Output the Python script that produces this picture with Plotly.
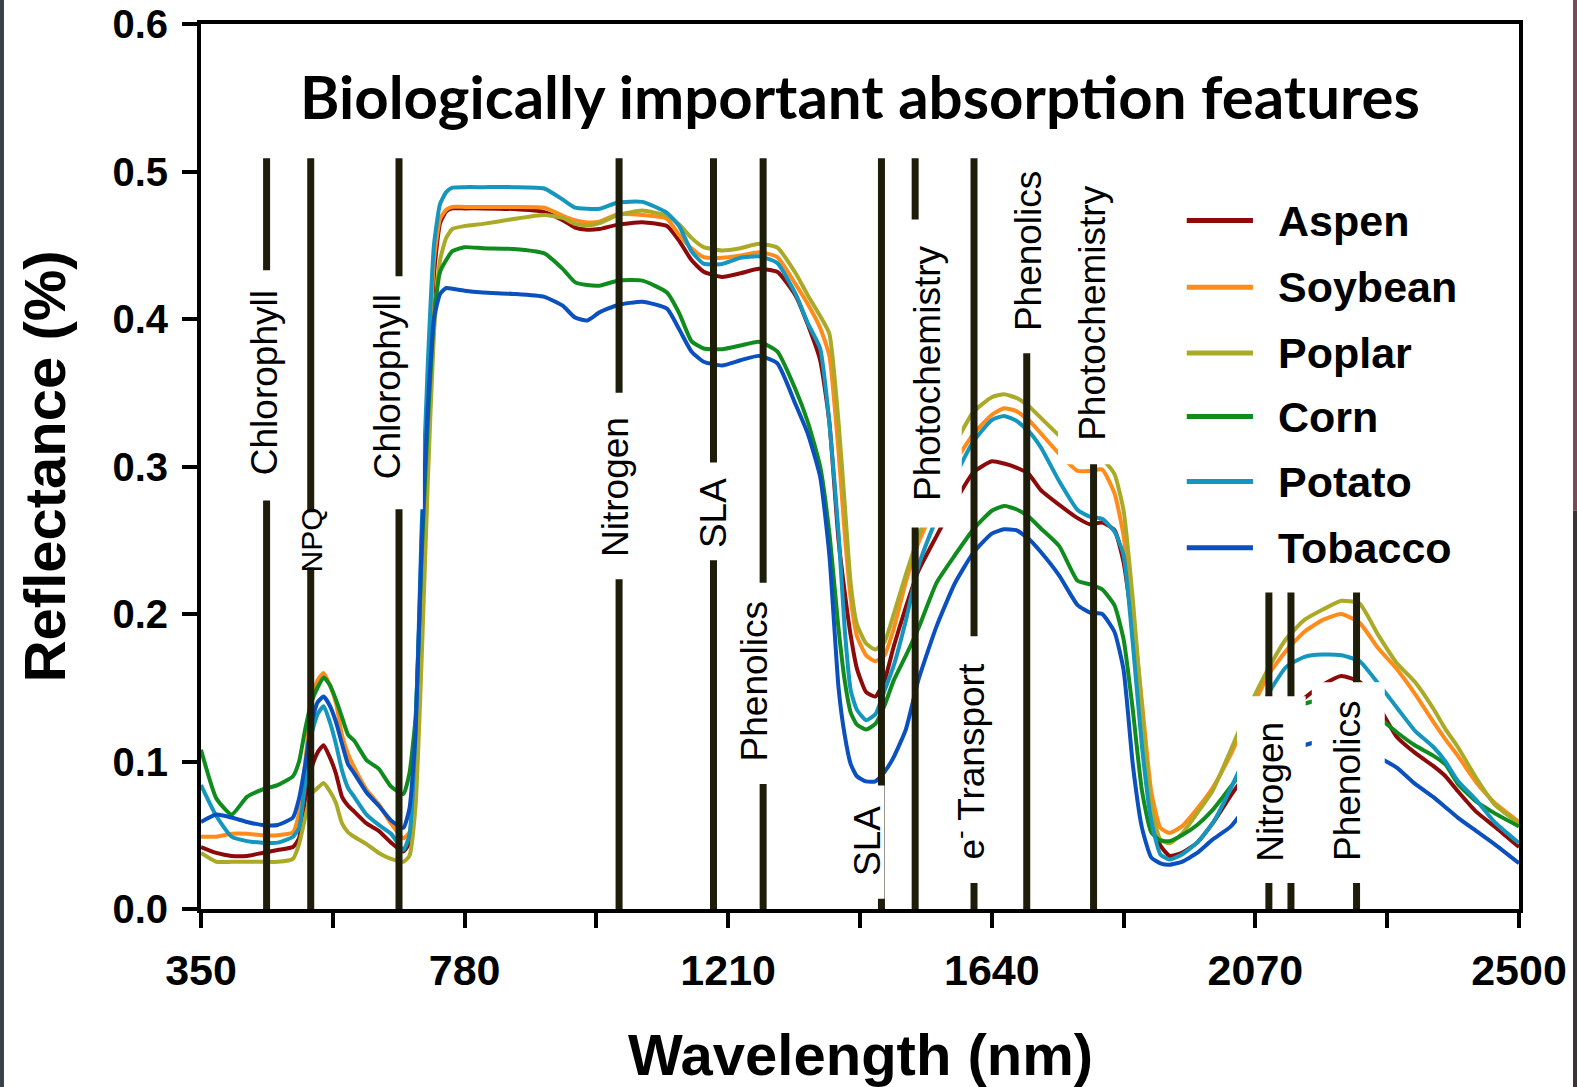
import plotly.graph_objects as go

# ---------------- data ----------------
wavelength = [350, 375, 400, 425, 450, 475, 500, 510, 520, 530, 540, 550, 560, 570, 580, 590,
              600, 620, 640, 660, 680, 690, 700, 710, 720, 730, 740, 750, 760, 780, 810, 860,
              910, 940, 960, 980, 1000, 1030, 1070, 1110, 1130, 1150, 1170, 1200, 1230, 1260,
              1290, 1320, 1340, 1360, 1375, 1390, 1400, 1410, 1420, 1435, 1450, 1465, 1480,
              1500, 1520, 1550, 1580, 1610, 1640, 1660, 1680, 1700, 1720, 1750, 1780, 1800,
              1820, 1840, 1855, 1870, 1885, 1900, 1915, 1930, 1950, 1975, 2000, 2030, 2060,
              2090, 2120, 2150, 2180, 2210, 2240, 2270, 2300, 2330, 2360, 2380, 2400, 2430,
              2460, 2500]

aspen = [0.042, 0.038, 0.036, 0.036, 0.038, 0.040, 0.042, 0.048, 0.075, 0.095, 0.106, 0.111,
         0.103, 0.092, 0.076, 0.070, 0.066, 0.058, 0.053, 0.045, 0.039, 0.045, 0.100, 0.230,
         0.340, 0.430, 0.465, 0.473, 0.475, 0.475, 0.475, 0.4745, 0.4725, 0.467, 0.462, 0.4605,
         0.461, 0.464, 0.4656, 0.463, 0.453, 0.440, 0.432, 0.4285, 0.431, 0.434, 0.432, 0.4158,
         0.396, 0.372, 0.330, 0.250, 0.215, 0.185, 0.163, 0.147, 0.144, 0.155, 0.178, 0.205,
         0.229, 0.253, 0.276, 0.296, 0.3035, 0.302, 0.2993, 0.295, 0.284, 0.274, 0.265, 0.2608,
         0.262, 0.257, 0.235, 0.190, 0.120, 0.065, 0.043, 0.036, 0.038, 0.045, 0.058, 0.077,
         0.095, 0.115, 0.132, 0.143, 0.152, 0.158, 0.154, 0.138, 0.117, 0.106, 0.097, 0.090,
         0.080, 0.066, 0.056, 0.042]

soybean = [0.049, 0.049, 0.051, 0.051, 0.050, 0.050, 0.052, 0.065, 0.099, 0.140, 0.155, 0.160,
           0.152, 0.140, 0.118, 0.105, 0.096, 0.081, 0.071, 0.058, 0.048, 0.052, 0.110, 0.240,
           0.350, 0.440, 0.468, 0.474, 0.476, 0.476, 0.476, 0.476, 0.4755, 0.470, 0.467, 0.4655,
           0.466, 0.471, 0.4705, 0.468, 0.457, 0.448, 0.442, 0.4415, 0.443, 0.4453, 0.442, 0.4235,
           0.410, 0.394, 0.375, 0.310, 0.255, 0.210, 0.185, 0.172, 0.168, 0.172, 0.190, 0.222,
           0.248, 0.276, 0.303, 0.322, 0.335, 0.3395, 0.3375, 0.3315, 0.3225, 0.3085, 0.297,
           0.297, 0.298, 0.282, 0.253, 0.200, 0.140, 0.080, 0.055, 0.0515, 0.056, 0.068, 0.082,
           0.105, 0.132, 0.158, 0.175, 0.188, 0.196, 0.200, 0.194, 0.177, 0.163, 0.146, 0.127,
           0.115, 0.104, 0.086, 0.072, 0.059]

poplar = [0.038, 0.032, 0.032, 0.032, 0.032, 0.032, 0.034, 0.044, 0.062, 0.078, 0.082, 0.0855,
          0.080, 0.072, 0.058, 0.052, 0.049, 0.044, 0.038, 0.034, 0.032, 0.036, 0.070, 0.170,
          0.290, 0.390, 0.440, 0.455, 0.461, 0.463, 0.4645, 0.4678, 0.4705, 0.4685, 0.4645,
          0.4635, 0.465, 0.4705, 0.4735, 0.470, 0.464, 0.455, 0.4487, 0.4465, 0.448, 0.451,
          0.4485, 0.431, 0.416, 0.402, 0.390, 0.330, 0.275, 0.220, 0.193, 0.180, 0.176, 0.181,
          0.200, 0.227, 0.252, 0.285, 0.315, 0.337, 0.347, 0.349, 0.3465, 0.341, 0.333, 0.321,
          0.312, 0.307, 0.305, 0.295, 0.270, 0.210, 0.135, 0.070, 0.047, 0.0445, 0.051, 0.065,
          0.080, 0.108, 0.137, 0.162, 0.183, 0.196, 0.203, 0.209, 0.207, 0.186, 0.167, 0.154,
          0.136, 0.122, 0.110, 0.089, 0.071, 0.058]

corn = [0.108, 0.075, 0.064, 0.076, 0.081, 0.084, 0.090, 0.100, 0.122, 0.140, 0.150, 0.157,
        0.152, 0.142, 0.130, 0.118, 0.114, 0.101, 0.095, 0.083, 0.078, 0.092, 0.130, 0.240,
        0.330, 0.400, 0.432, 0.440, 0.446, 0.4487, 0.448, 0.4475, 0.4445, 0.434, 0.425, 0.423,
        0.4226, 0.426, 0.426, 0.418, 0.404, 0.385, 0.380, 0.3795, 0.382, 0.3846, 0.378, 0.352,
        0.330, 0.300, 0.255, 0.190, 0.155, 0.133, 0.125, 0.1217, 0.1255, 0.138, 0.155, 0.172,
        0.190, 0.2213, 0.240, 0.2574, 0.270, 0.2733, 0.271, 0.266, 0.258, 0.246, 0.2225, 0.2201,
        0.2167, 0.206, 0.1828, 0.135, 0.080, 0.052, 0.0465, 0.046, 0.050, 0.057, 0.067, 0.083,
        0.100, 0.115, 0.128, 0.139, 0.142, 0.140, 0.135, 0.130, 0.120, 0.111, 0.104, 0.098,
        0.085, 0.073, 0.065, 0.056]

potato = [0.084, 0.063, 0.049, 0.046, 0.045, 0.045, 0.049, 0.055, 0.0855, 0.118, 0.132, 0.1375,
          0.127, 0.112, 0.094, 0.082, 0.076, 0.064, 0.057, 0.051, 0.040, 0.050, 0.120, 0.260,
          0.370, 0.450, 0.478, 0.486, 0.489, 0.4894, 0.4894, 0.4894, 0.4885, 0.481, 0.4755,
          0.4747, 0.4747, 0.479, 0.4794, 0.472, 0.463, 0.446, 0.4375, 0.4373, 0.4415, 0.4425,
          0.438, 0.417, 0.397, 0.380, 0.330, 0.255, 0.190, 0.148, 0.135, 0.128, 0.132, 0.148,
          0.165, 0.196, 0.232, 0.265, 0.293, 0.317, 0.3315, 0.3343, 0.331, 0.324, 0.313, 0.290,
          0.2705, 0.266, 0.2645, 0.256, 0.240, 0.180, 0.110, 0.060, 0.037, 0.0335, 0.037, 0.045,
          0.058, 0.082, 0.110, 0.145, 0.164, 0.171, 0.1725, 0.172, 0.168, 0.153, 0.137, 0.121,
          0.110, 0.100, 0.087, 0.074, 0.059, 0.0447]

tobacco = [0.059, 0.064, 0.062, 0.059, 0.057, 0.057, 0.062, 0.075, 0.098, 0.126, 0.140, 0.144,
           0.138, 0.127, 0.112, 0.098, 0.092, 0.079, 0.070, 0.060, 0.055, 0.068, 0.120, 0.250,
           0.340, 0.400, 0.417, 0.421, 0.4205, 0.4192, 0.418, 0.417, 0.415, 0.409, 0.401, 0.399,
           0.4045, 0.4095, 0.4117, 0.407, 0.393, 0.378, 0.371, 0.3685, 0.372, 0.375, 0.370, 0.342,
           0.322, 0.293, 0.240, 0.150, 0.118, 0.098, 0.090, 0.0865, 0.0865, 0.093, 0.103, 0.122,
           0.155, 0.1918, 0.221, 0.2416, 0.2545, 0.2574, 0.2568, 0.251, 0.242, 0.226, 0.206,
           0.201, 0.200, 0.188, 0.162, 0.098, 0.055, 0.035, 0.031, 0.030, 0.032, 0.038, 0.047,
           0.056, 0.072, 0.088, 0.104, 0.111, 0.114, 0.114, 0.109, 0.103, 0.096, 0.085, 0.076,
           0.069, 0.062, 0.053, 0.044, 0.031]

species = ["Aspen", "Soybean", "Poplar", "Corn", "Potato", "Tobacco"]
spectra = [aspen, soybean, poplar, corn, potato, tobacco]

# absorption features: centre wavelength (nm) and label
feature_wl = [457, 529, 673, 1032, 1186, 1267, 1460, 1515, 1611, 1697, 1806, 2092, 2128, 2235]
feature_name = ["Chlorophyll", "NPQ", "Chlorophyll", "Nitrogen", "SLA", "Phenolics", "SLA",
                "Photochemistry", "e<sup>-</sup> Transport", "Phenolics", "Photochemistry",
                "Nitrogen", "", "Phenolics"]

x_labeled = [350, 780, 1210, 1640, 2070, 2500]
x_minor = [565, 995, 1425, 1855, 2285]
y_ticks = [0, 0.1, 0.2, 0.3, 0.4, 0.5, 0.6]
y_ticktext = ["0.0", "0.1", "0.2", "0.3", "0.4", "0.5", "0.6"]

# ---------------- styling / layout ----------------
colors = ["#8c0a0a", "#ff8c1a", "#aaaa28", "#108c1e", "#1496be", "#0a50be"]
BAR = "#1d1d0a"
SANS = "Liberation Sans, Arial, sans-serif"

# top of each feature bar (reflectance units)
bar_top = [0.509] * 11 + [0.2145] * 3

# label placement: (x centre, y centre, font size) and the white box behind it (x0, x1, y0, y1)
label_pos = [
    (454, 0.357, 37, (425, 482, 0.277, 0.433)),
    (531, 0.2505, 30, (505, 555, 0.2316, 0.269)),
    (654, 0.354, 37, (622, 712, 0.271, 0.429)),
    (1025, 0.286, 37, (1000, 1052, 0.2235, 0.350)),
    (1187, 0.2685, 37, (1162, 1212, 0.2364, 0.3027)),
    (1253, 0.154, 37, (1225, 1282, 0.0847, 0.2212)),
    (1436, 0.046, 37, (1410, 1465, 0.0069, 0.0838)),
    (1535, 0.363, 37, (1480, 1591, 0.2586, 0.4674)),
    (1603, 0.100, 37, (1578, 1628, 0.0176, 0.185)),
    (1699, 0.446, 37, (1672, 1725, 0.3767, 0.512)),
    (1803, 0.404, 37, (1748, 1859, 0.3016, 0.512)),
    (2094, 0.0796, 37, (2040, 2152, 0.0177, 0.1442)),
    (None, None, None, None),
    (2220, 0.087, 37, (2162, 2281, 0.0177, 0.1537)),
]

fig = go.Figure()

for name, vals, col in zip(species, spectra, colors):
    fig.add_trace(go.Scatter(
        x=wavelength, y=vals, mode="lines", name=name,
        line=dict(color=col, width=4, shape="spline", smoothing=0.5),
        showlegend=False,
    ))

shapes = []
annotations = []

# feature bars
for wl, top in zip(feature_wl, bar_top):
    shapes.append(dict(type="line", xref="x", yref="y", x0=wl, x1=wl, y0=0, y1=top,
                       line=dict(color=BAR, width=7), layer="above"))

# white label boxes and rotated labels
for (xc, yc, fs, box), text in zip(label_pos, feature_name):
    if box is None:
        continue
    x0, x1, y0, y1 = box
    shapes.append(dict(type="rect", xref="x", yref="y", x0=x0, x1=x1, y0=y0, y1=y1,
                       fillcolor="white", line=dict(width=0), layer="above"))
    annotations.append(dict(x=xc, y=yc, xref="x", yref="y", text=text, textangle=-90,
                            showarrow=False, xanchor="center", yanchor="middle",
                            font=dict(family=SANS, size=fs, color="black")))

# legend (drawn by hand so the line samples match the long strokes)
legend_y = [0.4667, 0.4215, 0.3769, 0.3339, 0.2898, 0.2450]
for name, col, ly in zip(species, colors, legend_y):
    shapes.append(dict(type="line", xref="x", yref="y", x0=1958, x1=2066, y0=ly, y1=ly,
                       line=dict(color=col, width=5), layer="above"))
    annotations.append(dict(x=2104, y=ly, xref="x", yref="y", text=name, showarrow=False,
                            xanchor="left", yanchor="middle",
                            font=dict(family=SANS, size=43, color="black", weight="bold")))

# chart heading inside the plot
annotations.append(dict(x=0.5, y=0.551, xref="paper", yref="y",
                        text="Biologically important absorption features", showarrow=False,
                        xanchor="center", yanchor="middle",
                        font=dict(family="Lato, Open Sans, sans-serif", size=60,
                                  color="black", weight="bold")))

# axis titles
annotations.append(dict(x=0.5, y=-0.164, xref="paper", yref="paper",
                        text="Wavelength (nm)", showarrow=False,
                        xanchor="center", yanchor="middle",
                        font=dict(family=SANS, size=58, color="black", weight="bold")))
annotations.append(dict(x=-0.1185, y=0.5, xref="paper", yref="paper",
                        text="Reflectance (%)", showarrow=False, textangle=-90,
                        xanchor="center", yanchor="middle",
                        font=dict(family=SANS, size=58, color="black", weight="bold")))

# thin frame strips at the page edges
shapes.append(dict(type="rect", xref="paper", yref="paper", x0=-0.16, x1=-0.1495,
                   y0=-0.25, y1=1.05, fillcolor="#3b4048", line=dict(width=0), layer="above"))
shapes.append(dict(type="rect", xref="paper", yref="paper", x0=1.041, x1=1.06,
                   y0=0.45, y1=1.05, fillcolor="#7a4658", line=dict(width=0), layer="above"))
shapes.append(dict(type="rect", xref="paper", yref="paper", x0=1.041, x1=1.06,
                   y0=-0.25, y1=0.45, fillcolor="#3a3234", line=dict(width=0), layer="above"))

fig.update_layout(
    template="none",
    width=1577, height=1087,
    margin=dict(l=201, r=58, t=24, b=178, autoexpand=False),
    paper_bgcolor="white", plot_bgcolor="white",
    shapes=shapes, annotations=annotations,
    showlegend=False,
)

fig.update_xaxes(
    range=[350, 2500], automargin=False, showgrid=False, zeroline=False,
    showline=True, linecolor="black", linewidth=4, mirror=True,
    ticks="outside", ticklen=15, tickwidth=4, tickcolor="black",
    tickvals=x_labeled, ticktext=[str(v) for v in x_labeled],
    minor=dict(tickvals=x_minor, ticks="outside", ticklen=15, tickwidth=4, tickcolor="black",
               showgrid=False),
    tickfont=dict(family=SANS, size=43, color="black", weight="bold"),
    ticklabelstandoff=5,
)

fig.update_yaxes(
    range=[0, 0.6], automargin=False, showgrid=False, zeroline=False,
    showline=True, linecolor="black", linewidth=4, mirror=True,
    ticks="outside", ticklen=15, tickwidth=4, tickcolor="black",
    tickvals=y_ticks, ticktext=y_ticktext,
    tickfont=dict(family=SANS, size=40, color="black", weight="bold"),
    ticklabelstandoff=6,
)

fig.write_html("out.html")
